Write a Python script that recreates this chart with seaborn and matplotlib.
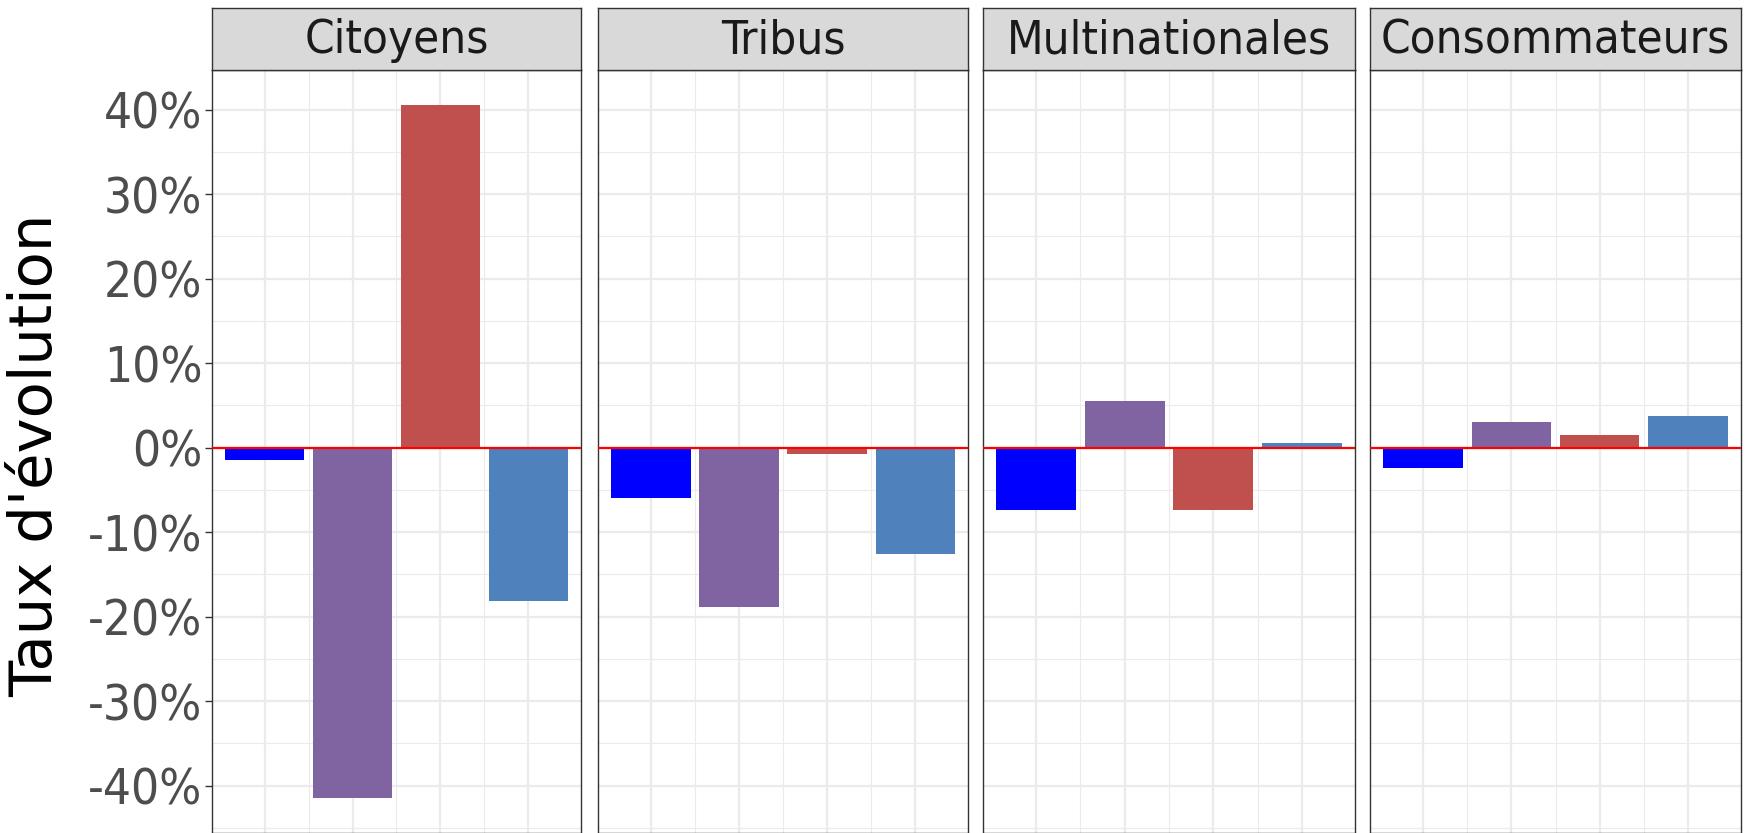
import os
import matplotlib
matplotlib.use("Agg")
import matplotlib.pyplot as plt
import seaborn as sns
import pandas as pd
import numpy as np
from matplotlib.ticker import MultipleLocator, FuncFormatter
from matplotlib import font_manager as fm

# ---- data ----
panels = ["Citoyens", "Tribus", "Multinationales", "Consommateurs"]
categories = ["Série 1", "Série 2", "Série 3", "Série 4"]
citoyens = [-1.5, -41.5, 40.6, -18.1]
tribus = [-5.9, -18.9, -0.7, -12.6]
multinationales = [-7.4, 5.5, -7.4, 0.5]
consommateurs = [-2.4, 3.0, 1.5, 3.8]
colors = ["#0000FF", "#8064A2", "#C0504D", "#4F81BD"]
y_ticks = [-40, -30, -20, -10, 0, 10, 20, 30, 40]

values = {"Citoyens": citoyens, "Tribus": tribus,
          "Multinationales": multinationales, "Consommateurs": consommateurs}
rows = []
for p in panels:
    for c, v in zip(categories, values[p]):
        rows.append({"panel": p, "cat": c, "val": v})
df = pd.DataFrame(rows)

sns.set_theme(style="white")
plt.rcParams["font.family"] = ["DejaVu Sans"]

# condensed DejaVu if available
cond_path = None
for f in fm.findSystemFonts():
    if "DejaVuSansCondensed.ttf" in f:
        cond_path = f
if cond_path:
    fp = lambda size: fm.FontProperties(fname=cond_path, size=size)
else:
    fp = lambda size: fm.FontProperties(family="DejaVu Sans", stretch="condensed", size=size)

normal_path = os.path.join(matplotlib.get_data_path(), "fonts", "ttf", "DejaVuSans.ttf")
if os.path.exists(normal_path):
    fpn = lambda size: fm.FontProperties(fname=normal_path, size=size)
else:
    fpn = lambda size: fm.FontProperties(family="DejaVu Sans", size=size)

W, H = 1748, 833
fig = plt.figure(figsize=(W / 100, H / 100), dpi=100)

lefts = [212, 598, 983, 1370]
rights = [581, 968, 1355, 1741]
strip_top, strip_bot = 8, 70
ax_bot = 833

allv = df["val"]
rng = allv.max() - allv.min()
ylo, yhi = allv.min() - 0.05 * rng, allv.max() + 0.05 * rng

for i, p in enumerate(panels):
    l, r = lefts[i], rights[i]
    ax = fig.add_axes([l / W, 1 - ax_bot / H, (r - l) / W, (ax_bot - strip_bot) / H])
    sub = df[df["panel"] == p]
    sns.barplot(data=sub, x="cat", y="val", hue="cat", palette=colors,
                order=categories, hue_order=categories, width=0.9,
                saturation=1, legend=False, ax=ax, edgecolor="none", zorder=3)
    ax.set_xlim(-0.6, len(categories) - 0.4)
    ax.set_ylim(ylo, yhi)
    ax.axhline(0, color="#FF0000", lw=1.6, zorder=4)
    ax.yaxis.set_major_locator(MultipleLocator(10))
    ax.yaxis.set_minor_locator(MultipleLocator(5))
    ax.set_xticks(range(len(categories)))
    ax.set_xticks(np.arange(0.5, len(categories) - 1, 1), minor=True)
    ax.grid(which="major", color="#EBEBEB", lw=1.6, zorder=0)
    ax.grid(which="minor", color="#EBEBEB", lw=0.8, zorder=0)
    ax.set_axisbelow(True)
    ax.set_xlabel("")
    ax.set_ylabel("")
    ax.tick_params(axis="x", which="both", length=0, labelbottom=False)
    if i == 0:
        ax.set_yticks(y_ticks)
        ax.yaxis.set_major_formatter(FuncFormatter(lambda v, _: f"{int(round(v))}%"))
        ax.tick_params(axis="y", which="major", length=5, width=1.0, color="#333333",
                       labelcolor="#4D4D4D", pad=2, left=True)
        ax.tick_params(axis="y", which="minor", length=0)
        for t in ax.get_yticklabels():
            t.set_fontproperties(fp(35.5))
    else:
        ax.tick_params(axis="y", which="both", length=0, labelleft=False)
    for s in ax.spines.values():
        s.set_color("#333333")
        s.set_linewidth(1.0)
        s.set_visible(True)

    sax = fig.add_axes([l / W, 1 - strip_bot / H, (r - l) / W, (strip_bot - strip_top) / H])
    sax.set_facecolor("#D9D9D9")
    sax.set_xticks([])
    sax.set_yticks([])
    for s in sax.spines.values():
        s.set_color("#333333")
        s.set_linewidth(1.0)
        s.set_visible(True)
    sax.text(0.5, 0.47, p, ha="center", va="center", color="#1A1A1A",
             transform=sax.transAxes, fontproperties=fp(34))

# y label: size it so that its rotated length matches the reference (~484 px)
ylab = fig.text(36 / W, 1 - 455 / H, "Taux d'évolution", rotation=90, ha="center",
                va="center", color="black", fontproperties=fpn(39))
renderer = fig.canvas.get_renderer()
target = 484.0
for _ in range(3):
    ext = ylab.get_window_extent(renderer)
    size = ylab.get_fontsize() * target / ext.height
    ylab.set_fontsize(size)

fig.savefig("out.png", dpi=100)
